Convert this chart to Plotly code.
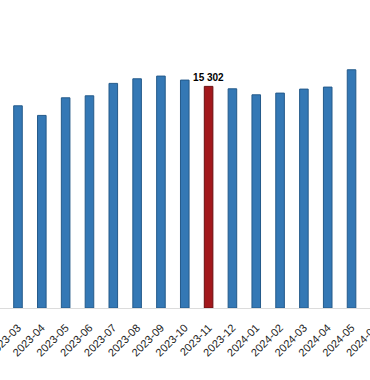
import plotly.graph_objects as go

months = ["2023-03", "2023-04", "2023-05", "2023-06", "2023-07", "2023-08",
          "2023-09", "2023-10", "2023-11", "2023-12", "2024-01", "2024-02",
          "2024-03", "2024-04", "2024-05", "2024-06"]
values = [13960, 13297, 14513, 14651, 15508, 15826, 16013, 15736, 15302,
          15135, 14720, 14838, 15114, 15253, 16448, 16200]
highlight = "2023-11"

fill = ["#a3181c" if m == highlight else "#3478b5" for m in months]
edge = ["#6a0e10" if m == highlight else "#245a8a" for m in months]
labels = [f"{v:,}".replace(",", " ") if m == highlight else "" for m, v in zip(months, values)]

fig = go.Figure(go.Bar(
    x=months, y=values,
    marker=dict(color=fill, line=dict(color=edge, width=1)),
    text=labels, textposition="outside", cliponaxis=False, constraintext="none",
    textfont=dict(family="Liberation Sans", size=10, color="#000000", weight="bold"),
))

fig.update_layout(
    width=388, height=380,
    margin=dict(l=0, r=0, t=0, b=72),
    paper_bgcolor="white", plot_bgcolor="white",
    bargap=0.64, showlegend=False,
    font=dict(family="Liberation Sans", size=11, color="#222222"),
)
fig.update_xaxes(type="category", range=[-0.755, 15.53], tickangle=-45,
                 showline=True, linecolor="#dcdcdc", linewidth=1,
                 showgrid=False, ticks="", ticklabelstandoff=8,
                 tickfont=dict(size=11, color="#222222"),
                 automargin=False)
fig.update_yaxes(range=[0, 21266], visible=False, showgrid=False, zeroline=False)

fig.write_html("out.html", config={"displayModeBar": False},
               post_script="document.body.style.margin='0';document.body.style.overflow='hidden';")
